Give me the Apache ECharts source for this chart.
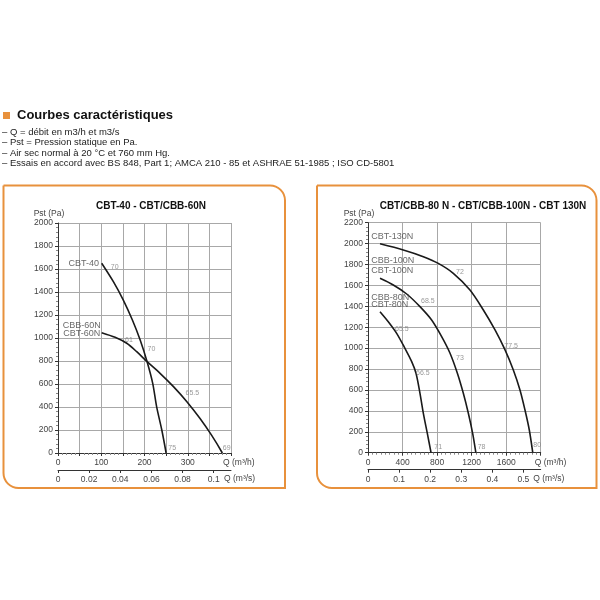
<!DOCTYPE html>
<html>
<head>
<meta charset="utf-8">
<script src="https://cdn.jsdelivr.net/npm/echarts@6/dist/echarts.min.js"></script>
<style>
  html, body { margin: 0; padding: 0; background: #fff; }
  #chart { width: 600px; height: 600px; }
</style>
</head>
<body>
<div id="chart"></div>
<script>
// courbes gauche : Q (m3/h), Pst (Pa)
var cbt40 = [[101,1650],[128,1490],[151,1330],[172,1157],[190,983],[206,794],[219,606],[228,403],[240,200],[250,0]];
var cbt60 = [[101,1046],[132,1006],[159,954],[182,881],[206,794],[236,693],[267,577],[298,446],[328,302],[355,155],[380,0]];
// courbes droite
var cbt80 = [[139,1349],[235,1253],[332,1142],[428,998],[506,871],[556,760],[602,568],[641,377],[687,185],[730,0]];
var cbt100 = [[139,1668],[293,1604],[448,1518],[602,1397],[737,1269],[853,1110],[950,951],[1035,760],[1104,568],[1162,377],[1212,185],[1249,0]];
var cbt130 = [[139,1998],[409,1939],[641,1875],[814,1811],[988,1716],[1181,1556],[1336,1365],[1471,1174],[1587,983],[1683,791],[1760,600],[1818,408],[1868,217],[1908,0]];

// rendements
var effLeft = [[122,1620,'70'],[155,983,'61'],[207,902,'70'],[295,519,'65.5'],[255,41,'75'],[381,41,'69']];
var effRight = [[1019,1725,'72'],[614,1454,'68.5'],[313,1180,'65.5'],[1579,1021,'77.5'],[1019,903,'73'],[556,765,'66.5'],[768,57,'71'],[1270,57,'78'],[1915,70,'80']];

// noms des modèles
var namesLeft = [[24,1650,'CBT-40'],[11,1107,'CBB-60N'],[12,1041,'CBT-60N']];
var namesRight = [[38,2066,'CBT-130N'],[38,1843,'CBB-100N'],[38,1738,'CBT-100N'],[38,1483,'CBB-80N'],[38,1413,'CBT-80N']];

var titles = ['CBT-40 - CBT/CBB-60N', 'CBT/CBB-80 N - CBT/CBB-100N - CBT 130N'];
var headLines = [
  '– Q = débit en m3/h et m3/s',
  '– Pst = Pression statique en Pa.',
  '– Air sec normal à 20 °C et 760 mm Hg.',
  '– Essais en accord avec BS 848, Part 1; AMCA 210 - 85 et ASHRAE 51-1985 ; ISO CD-5801'
];

var FONT = 'Liberation Sans, Arial, sans-serif';
var ORANGE = '#e8913c';

var chart = echarts.init(document.getElementById('chart'));

function mainX(gi, max, interval, step, gap, minor) {
  return {
    gridIndex: gi, type: 'value', min: 0, max: max, interval: interval,
    name: 'Q (m³/h)', nameLocation: 'end', nameGap: gap,
    nameTextStyle: { fontFamily: FONT, fontSize: 8.5, color: '#444', align: 'left',
      verticalAlign: 'top', padding: [5, 0, 0, 0] },
    axisLine: { lineStyle: { color: '#333', width: 1 } },
    axisTick: { show: true, length: 3, lineStyle: { color: '#333' } },
    minorTick: { show: true, splitNumber: minor, length: 2, lineStyle: { color: '#888' } },
    axisLabel: {
      fontFamily: FONT, fontSize: 8.5, color: '#444', margin: 5, showMaxLabel: false,
      formatter: function (v) { return v % step === 0 ? String(v) : ''; }
    },
    splitLine: { show: true, lineStyle: { color: '#a8a8a8', width: 1 } }
  };
}
function secX(gi, max, interval, gap) {
  return {
    gridIndex: gi, type: 'value', min: 0, max: max, interval: interval,
    position: 'bottom', offset: 17,
    name: 'Q (m³/s)', nameLocation: 'end', nameGap: gap,
    nameTextStyle: { fontFamily: FONT, fontSize: 8.5, color: '#444', align: 'left',
      verticalAlign: 'top', padding: [4.5, 0, 0, 0] },
    axisLine: { lineStyle: { color: '#333', width: 1 } },
    axisTick: { show: true, length: 3, lineStyle: { color: '#333' } },
    axisLabel: {
      fontFamily: FONT, fontSize: 8.5, color: '#444', margin: 5, showMaxLabel: false,
      formatter: function (v) { return String(+v.toFixed(2)); }
    },
    splitLine: { show: false }
  };
}
function yAx(gi, max) {
  return {
    gridIndex: gi, type: 'value', min: 0, max: max, interval: 200,
    name: 'Pst (Pa)', nameLocation: 'end', nameGap: 4,
    nameTextStyle: { fontFamily: FONT, fontSize: 8.5, color: '#444', padding: [0, 18, 0, 0] },
    axisLine: { show: true, lineStyle: { color: '#333', width: 1 } },
    axisTick: { show: true, length: 3, lineStyle: { color: '#333' } },
    minorTick: { show: true, splitNumber: 5, length: 2, lineStyle: { color: '#888' } },
    axisLabel: { fontFamily: FONT, fontSize: 8.5, color: '#444', margin: 5,
      formatter: function (v) { return String(v); } },
    splitLine: { show: true, lineStyle: { color: '#a8a8a8', width: 1 } }
  };
}
function curve(xi, yi, data) {
  return {
    type: 'line', xAxisIndex: xi, yAxisIndex: yi, data: data, smooth: 0.3,
    symbol: 'none', lineStyle: { color: '#1a1a1a', width: 1.6 }, z: 5, silent: true
  };
}
function texts(xi, yi, data, size, color) {
  return {
    type: 'scatter', xAxisIndex: xi, yAxisIndex: yi, data: data, symbolSize: 0, silent: true,
    label: {
      show: true, position: 'inside', align: 'left', verticalAlign: 'middle',
      fontFamily: FONT, fontSize: size, color: color,
      formatter: function (p) { return p.data[2]; }
    }, z: 6
  };
}

var graphics = [
  { type: 'rect', shape: { x: 3.5, y: 185.5, width: 281.5, height: 302.5, r: [0, 15, 0, 15] },
    style: { fill: 'none', stroke: ORANGE, lineWidth: 2 } },
  { type: 'rect', shape: { x: 317, y: 185.5, width: 279.5, height: 302.5, r: [0, 15, 0, 15] },
    style: { fill: 'none', stroke: ORANGE, lineWidth: 2 } },
  { type: 'rect', shape: { x: 3, y: 112, width: 7, height: 7 }, style: { fill: ORANGE } },
  { type: 'text', x: 17, y: 115.5, style: { text: 'Courbes caractéristiques', font: 'bold 13px ' + FONT,
    fill: '#111', textVerticalAlign: 'middle' } }
];
var lineY = [132.3, 142.7, 153, 163.3];
headLines.forEach(function (t, i) {
  graphics.push({ type: 'text', x: 2, y: lineY[i], style: { text: t, font: '9.5px ' + FONT,
    fill: '#222', textVerticalAlign: 'middle' } });
});

chart.setOption({
  animation: false,
  title: [
    { text: titles[0], left: 146, top: 196, textAlign: 'center',
      textStyle: { fontFamily: FONT, fontSize: 10, fontWeight: 'bold', color: '#111' } },
    { text: titles[1], left: 478, top: 196, textAlign: 'center',
      textStyle: { fontFamily: FONT, fontSize: 10, fontWeight: 'bold', color: '#111' } }
  ],
  grid: [
    { left: 58, top: 223, width: 173, height: 230 },
    { left: 368, top: 222.7, width: 172.7, height: 230 }
  ],
  xAxis: [
    mainX(0, 400, 50, 100, -8, 5),
    secX(0, 400 / 3600, 0.02, -7),
    mainX(1, 2000, 400, 400, -6, 8),
    secX(1, 2000 / 3600, 0.1, -8)
  ],
  yAxis: [yAx(0, 2000), yAx(1, 2200)],
  graphic: graphics,
  series: [
    curve(0, 0, cbt40),
    curve(0, 0, cbt60),
    curve(2, 1, cbt80),
    curve(2, 1, cbt100),
    curve(2, 1, cbt130),
    texts(0, 0, effLeft, 7, '#808080'),
    texts(2, 1, effRight, 7, '#808080'),
    texts(0, 0, namesLeft, 9, '#444'),
    texts(2, 1, namesRight, 9, '#444')
  ]
});
</script>
</body>
</html>
